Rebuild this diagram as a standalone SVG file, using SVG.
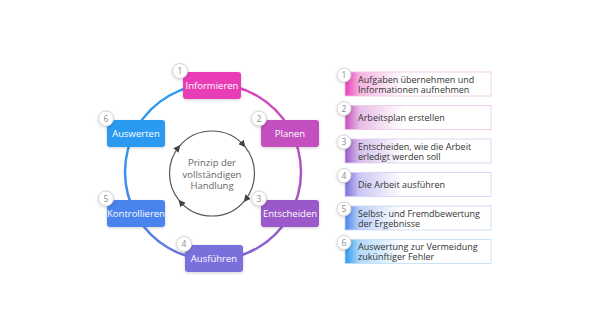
<svg xmlns="http://www.w3.org/2000/svg" width="600" height="336" viewBox="0 0 600 336">
<defs>
<style>
.node{font-family:"Open Sans","Liberation Sans",sans-serif;font-size:9.5px;fill:#fff;text-anchor:middle}
.badge circle{fill:#fff;stroke:#d4d4d4;stroke-width:1}
.badge text{font-family:"Open Sans","Liberation Sans",sans-serif;font-size:8.5px;fill:#8a8a8a;text-anchor:middle}
.item{font-family:"Open Sans","Liberation Sans",sans-serif;font-size:9px;fill:#333}
.center{font-family:"Open Sans","Liberation Sans",sans-serif;font-size:9.5px;fill:#666;text-anchor:middle}
.ring{fill:none;stroke-width:2.5}
.inner{fill:none;stroke:#555;stroke-width:1.2}
</style>
<filter id="sh" x="-30%" y="-30%" width="160%" height="170%">
<feDropShadow dx="0" dy="1" stdDeviation="1.5" flood-color="#000" flood-opacity="0.18"/>
</filter>
<marker id="arr" viewBox="0 0 10 10" refX="8" refY="5" markerWidth="7" markerHeight="7" markerUnits="userSpaceOnUse" orient="auto">
<path d="M0,0 L10,5 L0,10 z" fill="#444"/>
</marker>
<linearGradient id="s1" gradientUnits="userSpaceOnUse" x1="213" y1="84" x2="289" y2="128"><stop offset="0" stop-color="#e93cb8"/><stop offset="1" stop-color="#c44fbe"/></linearGradient>
<linearGradient id="s2" gradientUnits="userSpaceOnUse" x1="289" y1="128" x2="289" y2="216"><stop offset="0" stop-color="#c44fbe"/><stop offset="1" stop-color="#9b58c9"/></linearGradient>
<linearGradient id="s3" gradientUnits="userSpaceOnUse" x1="289" y1="216" x2="213" y2="260"><stop offset="0" stop-color="#9b58c9"/><stop offset="1" stop-color="#7a6fdc"/></linearGradient>
<linearGradient id="s4" gradientUnits="userSpaceOnUse" x1="213" y1="260" x2="137" y2="216"><stop offset="0" stop-color="#7a6fdc"/><stop offset="1" stop-color="#4a84ec"/></linearGradient>
<linearGradient id="s5" gradientUnits="userSpaceOnUse" x1="137" y1="216" x2="137" y2="128"><stop offset="0" stop-color="#4a84ec"/><stop offset="1" stop-color="#2f9cf2"/></linearGradient>
<linearGradient id="s6" gradientUnits="userSpaceOnUse" x1="137" y1="128" x2="213" y2="84"><stop offset="0" stop-color="#2f9cf2"/><stop offset="1" stop-color="#2a9af0"/></linearGradient>
<linearGradient id="g1" x1="0" y1="0" x2="0.4" y2="0"><stop offset="0" stop-color="#e93cb8"/><stop offset="0.25" stop-color="#f5b2df"/><stop offset="1" stop-color="#fff"/></linearGradient>
<linearGradient id="g2" x1="0" y1="0" x2="0.4" y2="0"><stop offset="0" stop-color="#c44fbe"/><stop offset="0.25" stop-color="#e8bce5"/><stop offset="1" stop-color="#fff"/></linearGradient>
<linearGradient id="g3" x1="0" y1="0" x2="0.4" y2="0"><stop offset="0" stop-color="#9b58c9"/><stop offset="0.25" stop-color="#d6c0eb"/><stop offset="1" stop-color="#fff"/></linearGradient>
<linearGradient id="g4" x1="0" y1="0" x2="0.4" y2="0"><stop offset="0" stop-color="#7a6fdc"/><stop offset="0.25" stop-color="#cbc7f4"/><stop offset="1" stop-color="#fff"/></linearGradient>
<linearGradient id="g5" x1="0" y1="0" x2="0.4" y2="0"><stop offset="0" stop-color="#4a84ec"/><stop offset="0.25" stop-color="#bcd2f8"/><stop offset="1" stop-color="#fff"/></linearGradient>
<linearGradient id="g6" x1="0" y1="0" x2="0.4" y2="0"><stop offset="0" stop-color="#2a9af0"/><stop offset="0.25" stop-color="#b2d9f9"/><stop offset="1" stop-color="#fff"/></linearGradient>
</defs>
<rect width="600" height="336" fill="#fff"/>

<g id="connectors">
<path class="ring" stroke="url(#s1)" d="M213,84 A88,88 0 0 1 289.21,128"/>
<path class="ring" stroke="url(#s2)" d="M289.21,128 A88,88 0 0 1 289.21,216"/>
<path class="ring" stroke="url(#s3)" d="M289.21,216 A88,88 0 0 1 213,260"/>
<path class="ring" stroke="url(#s4)" d="M213,260 A88,88 0 0 1 136.79,216"/>
<path class="ring" stroke="url(#s5)" d="M136.79,216 A88,88 0 0 1 136.79,128"/>
<path class="ring" stroke="url(#s6)" d="M136.79,128 A88,88 0 0 1 213,84"/>
<path class="inner" marker-end="url(#arr)" d="M179.44,146.18 A42.5,42.5 0 0 1 244.56,146.18"/>
<path class="inner" marker-end="url(#arr)" d="M244.56,146.18 A42.5,42.5 0 0 1 244.56,200.82"/>
<path class="inner" marker-end="url(#arr)" d="M244.56,200.82 A42.5,42.5 0 0 1 179.44,200.82"/>
<path class="inner" marker-end="url(#arr)" d="M179.44,200.82 A42.5,42.5 0 0 1 179.44,146.18"/>
</g>

<g id="center-label">
<text class="center" x="212" y="166">Prinzip der</text>
<text class="center" x="212" y="177.5">vollständigen</text>
<text class="center" x="212" y="189">Handlung</text>
</g>

<g id="n1">
<rect x="183" y="72" width="58" height="27" rx="3" fill="#e93cb8" filter="url(#sh)"/>
<text class="node" x="212" y="89">Informieren</text>
<g class="badge"><circle cx="180" cy="71" r="7.5" filter="url(#sh)"/><text x="180" y="74">1</text></g>
</g>
<g id="n2">
<rect x="261" y="120" width="58" height="27" rx="3" fill="#c44fbe" filter="url(#sh)"/>
<text class="node" x="290" y="137">Planen</text>
<g class="badge"><circle cx="259" cy="118.5" r="7.5" filter="url(#sh)"/><text x="259" y="121.5">2</text></g>
</g>
<g id="n3">
<rect x="261" y="200" width="58" height="27" rx="3" fill="#9b58c9" filter="url(#sh)"/>
<text class="node" x="290" y="217">Entscheiden</text>
<g class="badge"><circle cx="259" cy="198.5" r="7.5" filter="url(#sh)"/><text x="259" y="201.5">3</text></g>
</g>
<g id="n4">
<rect x="185" y="245" width="58" height="27" rx="3" fill="#7a6fdc" filter="url(#sh)"/>
<text class="node" x="214" y="262">Ausführen</text>
<g class="badge"><circle cx="184" cy="244" r="7.5" filter="url(#sh)"/><text x="184" y="247">4</text></g>
</g>
<g id="n5">
<rect x="107" y="200" width="58" height="27" rx="3" fill="#4a84ec" filter="url(#sh)"/>
<text class="node" x="136" y="217">Kontrollieren</text>
<g class="badge"><circle cx="106" cy="198.5" r="7.5" filter="url(#sh)"/><text x="106" y="201.5">5</text></g>
</g>
<g id="n6">
<rect x="107" y="120" width="58" height="27" rx="3" fill="#2a9af0" filter="url(#sh)"/>
<text class="node" x="136" y="137">Auswerten</text>
<g class="badge"><circle cx="106" cy="118.5" r="7.5" filter="url(#sh)"/><text x="106" y="121.5">6</text></g>
</g>

<g id="l1">
<rect x="345" y="72" width="146" height="24" fill="url(#g1)" stroke="#f3c2e5" stroke-width="0.8"/>
<text class="item" x="358" y="82.5">Aufgaben übernehmen und</text>
<text class="item" x="358" y="92.5">Informationen aufnehmen</text>
<g class="badge"><circle cx="344" cy="75" r="7" filter="url(#sh)"/><text x="344" y="78">1</text></g>
</g>
<g id="l2">
<rect x="345" y="105.5" width="146" height="24" fill="url(#g2)" stroke="#ebc6e8" stroke-width="0.8"/>
<text class="item" x="358" y="120.5">Arbeitsplan erstellen</text>
<g class="badge"><circle cx="344" cy="108.5" r="7" filter="url(#sh)"/><text x="344" y="111.5">2</text></g>
</g>
<g id="l3">
<rect x="345" y="139" width="146" height="24" fill="url(#g3)" stroke="#dccbec" stroke-width="0.8"/>
<text class="item" x="358" y="149.5">Entscheiden, wie die Arbeit</text>
<text class="item" x="358" y="159.5">erledigt werden soll</text>
<g class="badge"><circle cx="344" cy="142" r="7" filter="url(#sh)"/><text x="344" y="145">3</text></g>
</g>
<g id="l4">
<rect x="345" y="172.5" width="146" height="24" fill="url(#g4)" stroke="#d2cff3" stroke-width="0.8"/>
<text class="item" x="358" y="187.5">Die Arbeit ausführen</text>
<g class="badge"><circle cx="344" cy="175.5" r="7" filter="url(#sh)"/><text x="344" y="178.5">4</text></g>
</g>
<g id="l5">
<rect x="345" y="206" width="146" height="24" fill="url(#g5)" stroke="#c6d8f6" stroke-width="0.8"/>
<text class="item" x="358" y="216.5">Selbst- und Fremdbewertung</text>
<text class="item" x="358" y="226.5">der Ergebnisse</text>
<g class="badge"><circle cx="344" cy="209" r="7" filter="url(#sh)"/><text x="344" y="212">5</text></g>
</g>
<g id="l6">
<rect x="345" y="239.5" width="146" height="24" fill="url(#g6)" stroke="#c0dcf6" stroke-width="0.8"/>
<text class="item" x="358" y="250">Auswertung zur Vermeidung</text>
<text class="item" x="358" y="260">zukünftiger Fehler</text>
<g class="badge"><circle cx="344" cy="242.5" r="7" filter="url(#sh)"/><text x="344" y="245.5">6</text></g>
</g>
</svg>
